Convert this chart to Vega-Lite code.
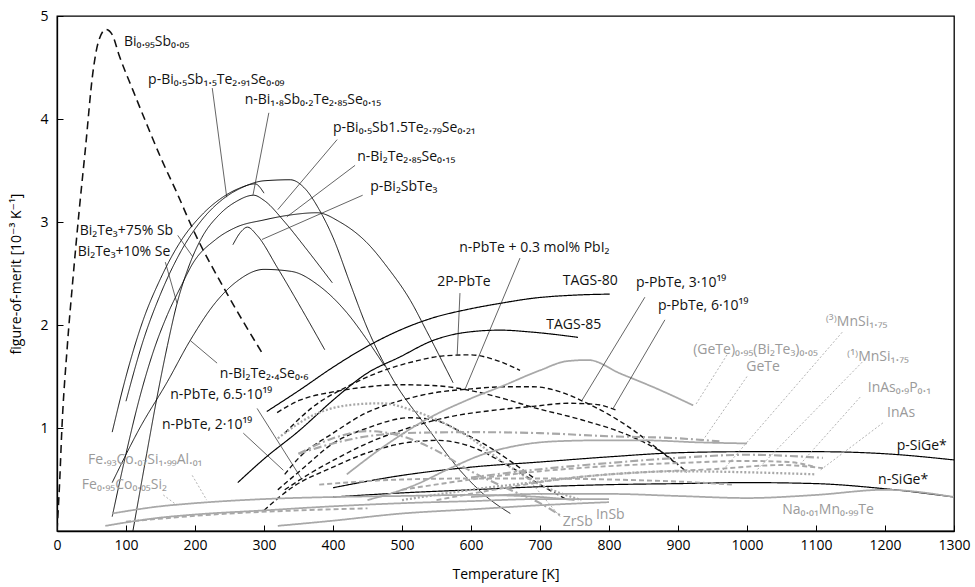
{
  "$schema": "https://vega.github.io/schema/vega-lite/v6.json",
  "width": 897,
  "height": 515,
  "autosize": {"type": "none"},
  "padding": {"left": 57, "top": 16, "right": 21, "bottom": 56},
  "background": "white",
  "config": {
    "view": {"stroke": "black", "strokeWidth": 1.3},
    "font": "Open Sans, DejaVu Sans, sans-serif"
  },
  "datasets": {
    "curves": [
      {"id":"BiSb","s":"bdash","T":0,"Z":0},{"id":"BiSb","s":"bdash","T":4,"Z":0.5},{"id":"BiSb","s":"bdash","T":7,"Z":0.98},{"id":"BiSb","s":"bdash","T":15,"Z":1.8},{"id":"BiSb","s":"bdash","T":23,"Z":2.44},{"id":"BiSb","s":"bdash","T":32,"Z":3.1},{"id":"BiSb","s":"bdash","T":41,"Z":3.7},{"id":"BiSb","s":"bdash","T":52,"Z":4.45},{"id":"BiSb","s":"bdash","T":60,"Z":4.75},{"id":"BiSb","s":"bdash","T":71,"Z":4.87},{"id":"BiSb","s":"bdash","T":80,"Z":4.82},{"id":"BiSb","s":"bdash","T":90,"Z":4.62},{"id":"BiSb","s":"bdash","T":110,"Z":4.28},{"id":"BiSb","s":"bdash","T":130,"Z":3.95},{"id":"BiSb","s":"bdash","T":150,"Z":3.63},{"id":"BiSb","s":"bdash","T":174,"Z":3.28},{"id":"BiSb","s":"bdash","T":197,"Z":2.93},{"id":"BiSb","s":"bdash","T":246,"Z":2.31},{"id":"BiSb","s":"bdash","T":299,"Z":1.71},

      {"id":"c1","s":"solid","T":80,"Z":0.96},{"id":"c1","s":"solid","T":100,"Z":1.5},{"id":"c1","s":"solid","T":125,"Z":2.05},{"id":"c1","s":"solid","T":150,"Z":2.45},{"id":"c1","s":"solid","T":180,"Z":2.82},{"id":"c1","s":"solid","T":210,"Z":3.07},{"id":"c1","s":"solid","T":240,"Z":3.24},{"id":"c1","s":"solid","T":265,"Z":3.33},{"id":"c1","s":"solid","T":287,"Z":3.37},{"id":"c1","s":"solid","T":300,"Z":3.28},

      {"id":"c2","s":"solid","T":100,"Z":1.26},{"id":"c2","s":"solid","T":125,"Z":1.85},{"id":"c2","s":"solid","T":150,"Z":2.3},{"id":"c2","s":"solid","T":180,"Z":2.72},{"id":"c2","s":"solid","T":210,"Z":3.02},{"id":"c2","s":"solid","T":240,"Z":3.22},{"id":"c2","s":"solid","T":270,"Z":3.34},{"id":"c2","s":"solid","T":300,"Z":3.4},{"id":"c2","s":"solid","T":338,"Z":3.41},{"id":"c2","s":"solid","T":360,"Z":3.32},{"id":"c2","s":"solid","T":380,"Z":3.12},{"id":"c2","s":"solid","T":400,"Z":2.85},{"id":"c2","s":"solid","T":425,"Z":2.4},{"id":"c2","s":"solid","T":449,"Z":1.98},{"id":"c2","s":"solid","T":487,"Z":1.47},{"id":"c2","s":"solid","T":536,"Z":1.01},{"id":"c2","s":"solid","T":584,"Z":0.59},{"id":"c2","s":"solid","T":623,"Z":0.33},{"id":"c2","s":"solid","T":657,"Z":0.17},

      {"id":"c3","s":"solid","T":110,"Z":0},{"id":"c3","s":"solid","T":130,"Z":0.75},{"id":"c3","s":"solid","T":145,"Z":1.3},{"id":"c3","s":"solid","T":160,"Z":1.8},{"id":"c3","s":"solid","T":174,"Z":2.21},{"id":"c3","s":"solid","T":190,"Z":2.55},{"id":"c3","s":"solid","T":210,"Z":2.85},{"id":"c3","s":"solid","T":235,"Z":3.07},{"id":"c3","s":"solid","T":260,"Z":3.2},{"id":"c3","s":"solid","T":285,"Z":3.26},{"id":"c3","s":"solid","T":300,"Z":3.21},{"id":"c3","s":"solid","T":330,"Z":3.0},{"id":"c3","s":"solid","T":360,"Z":2.75},{"id":"c3","s":"solid","T":399,"Z":2.41},

      {"id":"c4","s":"solid","T":80,"Z":0.14},{"id":"c4","s":"solid","T":100,"Z":0.75},{"id":"c4","s":"solid","T":120,"Z":1.3},{"id":"c4","s":"solid","T":140,"Z":1.75},{"id":"c4","s":"solid","T":160,"Z":2.1},{"id":"c4","s":"solid","T":180,"Z":2.38},{"id":"c4","s":"solid","T":197,"Z":2.6},{"id":"c4","s":"solid","T":230,"Z":2.83},{"id":"c4","s":"solid","T":260,"Z":2.95},{"id":"c4","s":"solid","T":300,"Z":3.02},{"id":"c4","s":"solid","T":340,"Z":3.07},{"id":"c4","s":"solid","T":377,"Z":3.09},{"id":"c4","s":"solid","T":410,"Z":3.0},{"id":"c4","s":"solid","T":449,"Z":2.8},{"id":"c4","s":"solid","T":480,"Z":2.55},{"id":"c4","s":"solid","T":512,"Z":2.24},{"id":"c4","s":"solid","T":535,"Z":1.95},{"id":"c4","s":"solid","T":555,"Z":1.69},{"id":"c4","s":"solid","T":574,"Z":1.44},

      {"id":"c5","s":"solid","T":80,"Z":0.47},{"id":"c5","s":"solid","T":120,"Z":1.0},{"id":"c5","s":"solid","T":160,"Z":1.45},{"id":"c5","s":"solid","T":193,"Z":1.85},{"id":"c5","s":"solid","T":230,"Z":2.22},{"id":"c5","s":"solid","T":260,"Z":2.42},{"id":"c5","s":"solid","T":300,"Z":2.54},{"id":"c5","s":"solid","T":340,"Z":2.52},{"id":"c5","s":"solid","T":380,"Z":2.38},{"id":"c5","s":"solid","T":420,"Z":2.12},{"id":"c5","s":"solid","T":450,"Z":1.85},{"id":"c5","s":"solid","T":475,"Z":1.6},

      {"id":"c6","s":"solid","T":255,"Z":2.78},{"id":"c6","s":"solid","T":266,"Z":2.9},{"id":"c6","s":"solid","T":276,"Z":2.95},{"id":"c6","s":"solid","T":290,"Z":2.87},{"id":"c6","s":"solid","T":320,"Z":2.55},{"id":"c6","s":"solid","T":355,"Z":2.15},{"id":"c6","s":"solid","T":388,"Z":1.76},

      {"id":"TAGS80","s":"thick","T":304,"Z":1.16},{"id":"TAGS80","s":"thick","T":352,"Z":1.37},{"id":"TAGS80","s":"thick","T":400,"Z":1.59},{"id":"TAGS80","s":"thick","T":449,"Z":1.79},{"id":"TAGS80","s":"thick","T":497,"Z":1.95},{"id":"TAGS80","s":"thick","T":545,"Z":2.07},{"id":"TAGS80","s":"thick","T":594,"Z":2.15},{"id":"TAGS80","s":"thick","T":642,"Z":2.21},{"id":"TAGS80","s":"thick","T":690,"Z":2.26},{"id":"TAGS80","s":"thick","T":750,"Z":2.29},{"id":"TAGS80","s":"thick","T":801,"Z":2.3},

      {"id":"TAGS85","s":"thick","T":262,"Z":0.47},{"id":"TAGS85","s":"thick","T":300,"Z":0.7},{"id":"TAGS85","s":"thick","T":352,"Z":0.98},{"id":"TAGS85","s":"thick","T":400,"Z":1.27},{"id":"TAGS85","s":"thick","T":449,"Z":1.53},{"id":"TAGS85","s":"thick","T":497,"Z":1.69},{"id":"TAGS85","s":"thick","T":545,"Z":1.85},{"id":"TAGS85","s":"thick","T":594,"Z":1.93},{"id":"TAGS85","s":"thick","T":642,"Z":1.95},{"id":"TAGS85","s":"thick","T":690,"Z":1.93},{"id":"TAGS85","s":"thick","T":755,"Z":1.88},

      {"id":"pSiGe","s":"thick","T":400,"Z":0.42},{"id":"pSiGe","s":"thick","T":500,"Z":0.54},{"id":"pSiGe","s":"thick","T":600,"Z":0.62},{"id":"pSiGe","s":"thick","T":700,"Z":0.67},{"id":"pSiGe","s":"thick","T":800,"Z":0.72},{"id":"pSiGe","s":"thick","T":900,"Z":0.76},{"id":"pSiGe","s":"thick","T":1000,"Z":0.77},{"id":"pSiGe","s":"thick","T":1100,"Z":0.77},{"id":"pSiGe","s":"thick","T":1200,"Z":0.75},{"id":"pSiGe","s":"thick","T":1300,"Z":0.69},

      {"id":"nSiGe","s":"thick","T":400,"Z":0.33},{"id":"nSiGe","s":"thick","T":500,"Z":0.37},{"id":"nSiGe","s":"thick","T":600,"Z":0.4},{"id":"nSiGe","s":"thick","T":700,"Z":0.43},{"id":"nSiGe","s":"thick","T":800,"Z":0.45},{"id":"nSiGe","s":"thick","T":900,"Z":0.46},{"id":"nSiGe","s":"thick","T":1000,"Z":0.47},{"id":"nSiGe","s":"thick","T":1100,"Z":0.46},{"id":"nSiGe","s":"thick","T":1200,"Z":0.41},{"id":"nSiGe","s":"thick","T":1300,"Z":0.33},

      {"id":"D1","s":"dash","T":330,"Z":0.95},{"id":"D1","s":"dash","T":370,"Z":1.2},{"id":"D1","s":"dash","T":420,"Z":1.4},{"id":"D1","s":"dash","T":470,"Z":1.55},{"id":"D1","s":"dash","T":520,"Z":1.65},{"id":"D1","s":"dash","T":560,"Z":1.7},{"id":"D1","s":"dash","T":599,"Z":1.71},{"id":"D1","s":"dash","T":640,"Z":1.65},{"id":"D1","s":"dash","T":671,"Z":1.56},

      {"id":"D2","s":"dash","T":319,"Z":1.15},{"id":"D2","s":"dash","T":352,"Z":1.27},{"id":"D2","s":"dash","T":400,"Z":1.35},{"id":"D2","s":"dash","T":450,"Z":1.4},{"id":"D2","s":"dash","T":497,"Z":1.42},{"id":"D2","s":"dash","T":550,"Z":1.41},{"id":"D2","s":"dash","T":609,"Z":1.35},{"id":"D2","s":"dash","T":650,"Z":1.28},{"id":"D2","s":"dash","T":690,"Z":1.2},{"id":"D2","s":"dash","T":760,"Z":1.08},{"id":"D2","s":"dash","T":835,"Z":0.91},{"id":"D2","s":"dash","T":880,"Z":0.75},{"id":"D2","s":"dash","T":913,"Z":0.57},

      {"id":"D3","s":"dash","T":330,"Z":0.55},{"id":"D3","s":"dash","T":352,"Z":0.72},{"id":"D3","s":"dash","T":400,"Z":0.95},{"id":"D3","s":"dash","T":449,"Z":1.15},{"id":"D3","s":"dash","T":500,"Z":1.27},{"id":"D3","s":"dash","T":545,"Z":1.34},{"id":"D3","s":"dash","T":600,"Z":1.38},{"id":"D3","s":"dash","T":650,"Z":1.4},{"id":"D3","s":"dash","T":690,"Z":1.4},{"id":"D3","s":"dash","T":730,"Z":1.35},{"id":"D3","s":"dash","T":762,"Z":1.26},{"id":"D3","s":"dash","T":800,"Z":1.13},{"id":"D3","s":"dash","T":835,"Z":0.98},{"id":"D3","s":"dash","T":870,"Z":0.8},{"id":"D3","s":"dash","T":900,"Z":0.64},

      {"id":"D4","s":"dash","T":330,"Z":0.4},{"id":"D4","s":"dash","T":367,"Z":0.56},{"id":"D4","s":"dash","T":410,"Z":0.72},{"id":"D4","s":"dash","T":449,"Z":0.85},{"id":"D4","s":"dash","T":500,"Z":0.98},{"id":"D4","s":"dash","T":570,"Z":1.11},{"id":"D4","s":"dash","T":630,"Z":1.17},{"id":"D4","s":"dash","T":690,"Z":1.21},{"id":"D4","s":"dash","T":740,"Z":1.24},{"id":"D4","s":"dash","T":780,"Z":1.23},{"id":"D4","s":"dash","T":812,"Z":1.17},

      {"id":"D5","s":"dash","T":320,"Z":0.4},{"id":"D5","s":"dash","T":355,"Z":0.6},{"id":"D5","s":"dash","T":400,"Z":0.85},{"id":"D5","s":"dash","T":450,"Z":1.0},{"id":"D5","s":"dash","T":512,"Z":1.1},{"id":"D5","s":"dash","T":550,"Z":1.07},{"id":"D5","s":"dash","T":589,"Z":0.95},{"id":"D5","s":"dash","T":630,"Z":0.8},{"id":"D5","s":"dash","T":661,"Z":0.66},{"id":"D5","s":"dash","T":690,"Z":0.52},

      {"id":"D6","s":"dash","T":300,"Z":0.2},{"id":"D6","s":"dash","T":340,"Z":0.42},{"id":"D6","s":"dash","T":400,"Z":0.62},{"id":"D6","s":"dash","T":450,"Z":0.76},{"id":"D6","s":"dash","T":500,"Z":0.85},{"id":"D6","s":"dash","T":550,"Z":0.88},{"id":"D6","s":"dash","T":600,"Z":0.82},{"id":"D6","s":"dash","T":650,"Z":0.65},{"id":"D6","s":"dash","T":700,"Z":0.45},{"id":"D6","s":"dash","T":740,"Z":0.3},

      {"id":"gGeTeBi","s":"gsolid","T":420,"Z":0.55},{"id":"gGeTeBi","s":"gsolid","T":480,"Z":0.85},{"id":"gGeTeBi","s":"gsolid","T":540,"Z":1.1},{"id":"gGeTeBi","s":"gsolid","T":594,"Z":1.27},{"id":"gGeTeBi","s":"gsolid","T":650,"Z":1.42},{"id":"gGeTeBi","s":"gsolid","T":700,"Z":1.56},{"id":"gGeTeBi","s":"gsolid","T":740,"Z":1.65},{"id":"gGeTeBi","s":"gsolid","T":770,"Z":1.66},{"id":"gGeTeBi","s":"gsolid","T":816,"Z":1.53},{"id":"gGeTeBi","s":"gsolid","T":870,"Z":1.38},{"id":"gGeTeBi","s":"gsolid","T":922,"Z":1.22},

      {"id":"gGeTe","s":"gdashdot","T":350,"Z":0.75},{"id":"gGeTe","s":"gdashdot","T":400,"Z":0.85},{"id":"gGeTe","s":"gdashdot","T":450,"Z":0.92},{"id":"gGeTe","s":"gdashdot","T":500,"Z":0.95},{"id":"gGeTe","s":"gdashdot","T":600,"Z":0.96},{"id":"gGeTe","s":"gdashdot","T":700,"Z":0.95},{"id":"gGeTe","s":"gdashdot","T":800,"Z":0.92},{"id":"gGeTe","s":"gdashdot","T":900,"Z":0.9},{"id":"gGeTe","s":"gdashdot","T":960,"Z":0.87},

      {"id":"gMn3","s":"gdash","T":500,"Z":0.4},{"id":"gMn3","s":"gdash","T":600,"Z":0.5},{"id":"gMn3","s":"gdash","T":700,"Z":0.58},{"id":"gMn3","s":"gdash","T":800,"Z":0.63},{"id":"gMn3","s":"gdash","T":900,"Z":0.66},{"id":"gMn3","s":"gdash","T":1000,"Z":0.68},{"id":"gMn3","s":"gdash","T":1060,"Z":0.67},{"id":"gMn3","s":"gdash","T":1100,"Z":0.62},

      {"id":"gMn1","s":"gdash","T":550,"Z":0.3},{"id":"gMn1","s":"gdash","T":650,"Z":0.42},{"id":"gMn1","s":"gdash","T":750,"Z":0.52},{"id":"gMn1","s":"gdash","T":850,"Z":0.57},{"id":"gMn1","s":"gdash","T":950,"Z":0.6},{"id":"gMn1","s":"gdash","T":1050,"Z":0.64},{"id":"gMn1","s":"gdash","T":1110,"Z":0.61},

      {"id":"gInAsP","s":"gdashdot","T":600,"Z":0.52},{"id":"gInAsP","s":"gdashdot","T":700,"Z":0.6},{"id":"gInAsP","s":"gdashdot","T":800,"Z":0.66},{"id":"gInAsP","s":"gdashdot","T":900,"Z":0.71},{"id":"gInAsP","s":"gdashdot","T":1000,"Z":0.74},{"id":"gInAsP","s":"gdashdot","T":1110,"Z":0.71},

      {"id":"gInAs","s":"gdot","T":500,"Z":0.3},{"id":"gInAs","s":"gdot","T":600,"Z":0.4},{"id":"gInAs","s":"gdot","T":700,"Z":0.48},{"id":"gInAs","s":"gdot","T":800,"Z":0.55},{"id":"gInAs","s":"gdot","T":900,"Z":0.58},{"id":"gInAs","s":"gdot","T":1000,"Z":0.57},{"id":"gInAs","s":"gdot","T":1100,"Z":0.55},

      {"id":"gNa","s":"gsolid","T":600,"Z":0.33},{"id":"gNa","s":"gsolid","T":700,"Z":0.36},{"id":"gNa","s":"gsolid","T":800,"Z":0.36},{"id":"gNa","s":"gsolid","T":900,"Z":0.34},{"id":"gNa","s":"gsolid","T":1000,"Z":0.32},{"id":"gNa","s":"gsolid","T":1100,"Z":0.35},{"id":"gNa","s":"gsolid","T":1200,"Z":0.4},{"id":"gNa","s":"gsolid","T":1300,"Z":0.33},

      {"id":"gFe93","s":"gsolid","T":80,"Z":0.17},{"id":"gFe93","s":"gsolid","T":150,"Z":0.24},{"id":"gFe93","s":"gsolid","T":200,"Z":0.27},{"id":"gFe93","s":"gsolid","T":300,"Z":0.31},{"id":"gFe93","s":"gsolid","T":400,"Z":0.33},{"id":"gFe93","s":"gsolid","T":500,"Z":0.34},{"id":"gFe93","s":"gsolid","T":600,"Z":0.35},{"id":"gFe93","s":"gsolid","T":700,"Z":0.33},{"id":"gFe93","s":"gsolid","T":750,"Z":0.3},

      {"id":"gFe95","s":"gsolid","T":70,"Z":0.05},{"id":"gFe95","s":"gsolid","T":150,"Z":0.13},{"id":"gFe95","s":"gsolid","T":200,"Z":0.16},{"id":"gFe95","s":"gsolid","T":300,"Z":0.2},{"id":"gFe95","s":"gsolid","T":400,"Z":0.24},{"id":"gFe95","s":"gsolid","T":500,"Z":0.27},{"id":"gFe95","s":"gsolid","T":600,"Z":0.29},{"id":"gFe95","s":"gsolid","T":700,"Z":0.31},{"id":"gFe95","s":"gsolid","T":800,"Z":0.31},

      {"id":"gFed","s":"gdash","T":100,"Z":0.09},{"id":"gFed","s":"gdash","T":250,"Z":0.17},{"id":"gFed","s":"gdash","T":350,"Z":0.2},{"id":"gFed","s":"gdash","T":450,"Z":0.22},

      {"id":"gZrSb","s":"gdashdot","T":350,"Z":0.75},{"id":"gZrSb","s":"gdashdot","T":400,"Z":0.9},{"id":"gZrSb","s":"gdashdot","T":450,"Z":0.97},{"id":"gZrSb","s":"gdashdot","T":500,"Z":0.92},{"id":"gZrSb","s":"gdashdot","T":550,"Z":0.78},{"id":"gZrSb","s":"gdashdot","T":600,"Z":0.58},{"id":"gZrSb","s":"gdashdot","T":650,"Z":0.42},{"id":"gZrSb","s":"gdashdot","T":700,"Z":0.27},{"id":"gZrSb","s":"gdashdot","T":730,"Z":0.15},

      {"id":"gInSb","s":"gdot","T":320,"Z":0.9},{"id":"gInSb","s":"gdot","T":370,"Z":1.12},{"id":"gInSb","s":"gdot","T":420,"Z":1.22},{"id":"gInSb","s":"gdot","T":470,"Z":1.24},{"id":"gInSb","s":"gdot","T":520,"Z":1.16},{"id":"gInSb","s":"gdot","T":560,"Z":1.05},{"id":"gInSb","s":"gdot","T":600,"Z":0.9},{"id":"gInSb","s":"gdot","T":650,"Z":0.65},{"id":"gInSb","s":"gdot","T":700,"Z":0.45},{"id":"gInSb","s":"gdot","T":760,"Z":0.3},

      {"id":"gx","s":"gsolid","T":450,"Z":0.3},{"id":"gx","s":"gsolid","T":520,"Z":0.45},{"id":"gx","s":"gsolid","T":570,"Z":0.61},{"id":"gx","s":"gsolid","T":620,"Z":0.75},{"id":"gx","s":"gsolid","T":660,"Z":0.82},{"id":"gx","s":"gsolid","T":720,"Z":0.87},{"id":"gx","s":"gsolid","T":787,"Z":0.88},{"id":"gx","s":"gsolid","T":850,"Z":0.88},{"id":"gx","s":"gsolid","T":932,"Z":0.86},{"id":"gx","s":"gsolid","T":1000,"Z":0.85},

      {"id":"glow","s":"gsolid","T":320,"Z":0.05},{"id":"glow","s":"gsolid","T":400,"Z":0.1},{"id":"glow","s":"gsolid","T":500,"Z":0.17},{"id":"glow","s":"gsolid","T":600,"Z":0.21},{"id":"glow","s":"gsolid","T":700,"Z":0.25},{"id":"glow","s":"gsolid","T":800,"Z":0.28},

      {"id":"gmid","s":"gdash","T":380,"Z":0.45},{"id":"gmid","s":"gdash","T":500,"Z":0.5},{"id":"gmid","s":"gdash","T":600,"Z":0.51},{"id":"gmid","s":"gdash","T":700,"Z":0.51},{"id":"gmid","s":"gdash","T":800,"Z":0.5},{"id":"gmid","s":"gdash","T":900,"Z":0.48},{"id":"gmid","s":"gdash","T":980,"Z":0.45}
    ],
    "leadersK": [
      {"T":225,"Z":4.3,"T2":246,"Z2":3.24},{"T":307,"Z":4.06,"T2":284,"Z2":3.26},{"T":406,"Z":3.8,"T2":320,"Z2":3.12},{"T":432,"Z":3.55,"T2":333,"Z2":3.05},{"T":443,"Z":3.26,"T2":297,"Z2":2.83},{"T":175,"Z":2.87,"T2":197,"Z2":2.66},{"T":157,"Z":2.61,"T2":174,"Z2":2.21},{"T":232,"Z":1.63,"T2":193,"Z2":1.85},{"T":290,"Z":1.19,"T2":355,"Z2":0.5},{"T":270,"Z":0.95,"T2":328,"Z2":0.59},{"T":671,"Z":2.65,"T2":591,"Z2":1.37},{"T":584,"Z":2.31,"T2":580,"Z2":1.71},{"T":852,"Z":2.27,"T2":761,"Z2":1.27},{"T":881,"Z":2.05,"T2":806,"Z2":1.19}
    ],
    "leadersG": [
      {"T":971,"Z":1.71,"T2":925,"Z2":1.22},{"T":1000,"Z":1.5,"T2":936,"Z2":0.88},{"T":1138,"Z":1.93,"T2":965,"Z2":0.59},{"T":1167,"Z":1.64,"T2":1014,"Z2":0.59},{"T":1164,"Z":1.3,"T2":1080,"Z2":0.67},{"T":1197,"Z":1.05,"T2":1106,"Z2":0.59},{"T":196,"Z":0.54,"T2":217,"Z2":0.3},{"T":154,"Z":0.35,"T2":174,"Z2":0.25},{"T":729,"Z":0.14,"T2":681,"Z2":0.52}
    ],
    "labelsK": [
      {"t":"Bi₀.₉₅Sb₀.₀₅","T":97,"Z":4.75},{"t":"p-Bi₀.₅Sb₁.₅Te₂.₉₁Se₀.₀₉","T":132,"Z":4.38},{"t":"n-Bi₁.₈Sb₀.₂Te₂.₈₅Se₀.₁₅","T":272,"Z":4.18},{"t":"p-Bi₀.₅Sb1.5Te₂.₇₉Se₀.₂₁","T":400,"Z":3.91},{"t":"n-Bi₂Te₂.₈₅Se₀.₁₅","T":435,"Z":3.63},{"t":"p-Bi₂SbTe₃","T":454,"Z":3.34},{"t":"Bi₂Te₃+75% Sb","T":33,"Z":2.91},{"t":"Bi₂Te₃+10% Se","T":30,"Z":2.71},{"t":"n-Bi₂Te₂.₄Se₀.₆","T":236,"Z":1.52},{"t":"n-PbTe, 6.5·10¹⁹","T":164,"Z":1.32},{"t":"n-PbTe, 2·10¹⁹","T":152,"Z":1.03},{"t":"n-PbTe + 0.3 mol% PbI₂","T":583,"Z":2.75},{"t":"2P-PbTe","T":551,"Z":2.42},{"t":"TAGS-80","T":733,"Z":2.43},{"t":"TAGS-85","T":709,"Z":2.0},{"t":"p-PbTe, 3·10¹⁹","T":839,"Z":2.41},{"t":"p-PbTe, 6·10¹⁹","T":871,"Z":2.18},{"t":"p-SiGe*","T":1217,"Z":0.83},{"t":"n-SiGe*","T":1190,"Z":0.5}
    ],
    "labelsG": [
      {"t":"(GeTe)₀.₉₅(Bi₂Te₃)₀.₀₅","T":922,"Z":1.76},{"t":"GeTe","T":999,"Z":1.59},{"t":"⁽³⁾MnSi₁.₇₅","T":1114,"Z":2.03},{"t":"⁽¹⁾MnSi₁.₇₅","T":1145,"Z":1.69},{"t":"InAs₀.₉P₀.₁","T":1175,"Z":1.39},{"t":"InAs","T":1203,"Z":1.15},{"t":"Na₀.₀₁Mn₀.₉₉Te","T":1051,"Z":0.2},{"t":"ZrSb","T":733,"Z":0.09},{"t":"InSb","T":781,"Z":0.16},{"t":"Fe.₉₃Co.₀₇Si₁.₉₉Al.₀₁","T":45,"Z":0.69},{"t":"Fe₀.₉₅Co₀.₀₅Si₂","T":36,"Z":0.45}
    ]
  },
  "layer": [
    {
      "data": {"name": "curves"},
      "mark": {"type": "line", "interpolate": "monotone", "clip": true},
      "encoding": {
        "x": {"field": "T", "type": "quantitative", "scale": {"domain": [0, 1300], "nice": false},
          "axis": {"title": "Temperature [K]", "format": "d", "values": [0,100,200,300,400,500,600,700,800,900,1000,1100,1200,1300], "tickSize": -6, "labelPadding": 13, "labelFontSize": 14, "titleFontSize": 14, "titleFontWeight": "normal", "titlePadding": 15, "labelFlush": false, "grid": false, "domainColor": "black", "domainWidth": 1.3, "tickColor": "black", "labelColor": "black", "titleColor": "black"}},
        "y": {"field": "Z", "type": "quantitative", "scale": {"domain": [0, 5], "nice": false},
          "axis": {"title": "figure-of-merit [10⁻³ K⁻¹]", "format": "d", "values": [1,2,3,4,5], "tickSize": -6, "labelPadding": 15, "labelFontSize": 14, "titleFontSize": 14, "titleFontWeight": "normal", "titlePadding": 16, "labelFlush": false, "grid": false, "domainColor": "black", "domainWidth": 1.3, "tickColor": "black", "labelColor": "black", "titleColor": "black"}},
        "detail": {"field": "id"},
        "color": {"field": "s", "type": "nominal", "legend": null,
          "scale": {"domain": ["solid","thick","dash","bdash","gsolid","gdash","gdashdot","gdot"], "range": ["#111","#000","#111","#111","#a8a8a8","#a8a8a8","#a8a8a8","#a8a8a8"]}},
        "strokeWidth": {"field": "s", "type": "nominal", "legend": null,
          "scale": {"domain": ["solid","thick","dash","bdash","gsolid","gdash","gdashdot","gdot"], "range": [1, 2.3, 1.3, 1.2, 0.9, 0.9, 0.9, 0.9]}},
        "strokeDash": {"field": "s", "type": "nominal", "legend": null,
          "scale": {"domain": ["solid","thick","dash","bdash","gsolid","gdash","gdashdot","gdot"], "range": [[1,0],[1,0],[5,3],[8,5],[1,0],[5,3],[8,3,2,3],[2,2]]}}
      }
    },
    {
      "data": {"name": "leadersK"},
      "mark": {"type": "rule", "color": "#222", "strokeWidth": 0.7},
      "encoding": {"x": {"field": "T", "type": "quantitative"}, "y": {"field": "Z", "type": "quantitative"}, "x2": {"field": "T2"}, "y2": {"field": "Z2"}}
    },
    {
      "data": {"name": "leadersG"},
      "mark": {"type": "rule", "color": "#a0a0a0", "strokeWidth": 0.8, "strokeDash": [2, 2]},
      "encoding": {"x": {"field": "T", "type": "quantitative"}, "y": {"field": "Z", "type": "quantitative"}, "x2": {"field": "T2"}, "y2": {"field": "Z2"}}
    },
    {
      "data": {"name": "labelsK"},
      "mark": {"type": "text", "align": "left", "baseline": "middle", "fontSize": 14, "color": "#111"},
      "encoding": {"x": {"field": "T", "type": "quantitative"}, "y": {"field": "Z", "type": "quantitative"}, "text": {"field": "t"}}
    },
    {
      "data": {"name": "labelsG"},
      "mark": {"type": "text", "align": "left", "baseline": "middle", "fontSize": 14, "color": "#9a9a9a"},
      "encoding": {"x": {"field": "T", "type": "quantitative"}, "y": {"field": "Z", "type": "quantitative"}, "text": {"field": "t"}}
    }
  ]
}
